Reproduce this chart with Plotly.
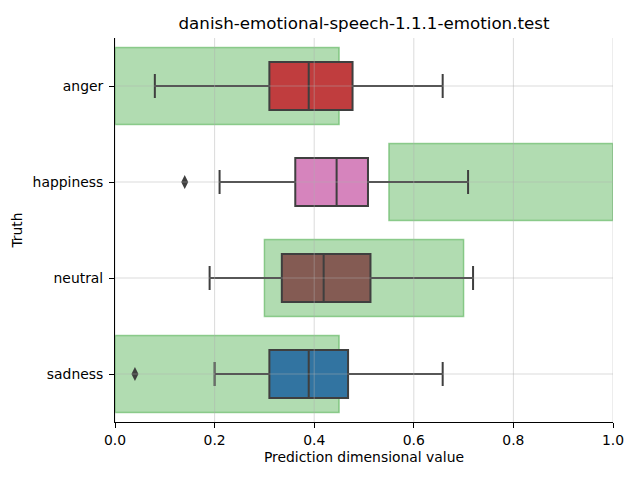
import plotly.graph_objects as go

# ---- data ----
categories = ["anger", "happiness", "neutral", "sadness"]
box_colors = ["#c03d3e", "#d684bd", "#845b53", "#3274a1"]
lower_whisker = [0.08, 0.21, 0.19, 0.20]
q1_vals = [0.31, 0.362, 0.335, 0.31]
median_vals = [0.389, 0.445, 0.419, 0.389]
q3_vals = [0.477, 0.508, 0.513, 0.468]
upper_whisker = [0.658, 0.709, 0.719, 0.658]
outlier_cats = ["happiness", "sadness"]
outlier_vals = [0.14, 0.04]
range_low = [0.0, 0.55, 0.30, 0.0]
range_high = [0.45, 1.0, 0.70, 0.45]
x_ticks = [0.0, 0.2, 0.4, 0.6, 0.8, 1.0]

FONT = "DejaVu Sans"
LINE = "#3f3f3f"

fig = go.Figure()

# green expected-range bars
fig.add_trace(go.Bar(
    orientation="h",
    y=categories,
    x=[h - l for l, h in zip(range_low, range_high)],
    base=range_low,
    width=0.8,
    marker=dict(color="rgba(44,160,44,0.37)",
                line=dict(color="rgba(44,160,44,0.45)", width=1.5)),
    showlegend=False,
    hoverinfo="skip",
))

# boxes
for i, c in enumerate(categories):
    fig.add_trace(go.Box(
        orientation="h",
        y=[c],
        q1=[q1_vals[i]],
        median=[median_vals[i]],
        q3=[q3_vals[i]],
        lowerfence=[lower_whisker[i]],
        upperfence=[upper_whisker[i]],
        width=0.5,
        whiskerwidth=0.5,
        fillcolor=box_colors[i],
        line=dict(color=LINE, width=2),
        showlegend=False,
    ))

# outliers
fig.add_trace(go.Scatter(
    x=outlier_vals, y=outlier_cats, mode="markers",
    marker=dict(symbol="diamond-tall", size=10, color=LINE),
    showlegend=False,
))

# gridlines drawn above (semi-transparent)
shapes = []
for t in x_ticks:
    shapes.append(dict(type="line", xref="x", yref="paper", x0=t, x1=t, y0=0, y1=1,
                       line=dict(color="rgba(175,175,175,0.45)", width=1), layer="above"))
for i, c in enumerate(categories):
    shapes.append(dict(type="line", xref="paper", yref="y", x0=0, x1=1, y0=i, y1=i,
                       line=dict(color="rgba(175,175,175,0.45)", width=1), layer="above"))

fig.update_layout(
    width=624, height=464,
    margin=dict(l=107, r=19, t=30, b=50, autoexpand=False),
    paper_bgcolor="white", plot_bgcolor="white",
    font=dict(family=FONT, size=14, color="black"),
    title=dict(text="danish-emotional-speech-1.1.1-emotion.test",
               x=0.5, xref="paper", xanchor="center",
               y=1, yref="paper", yanchor="bottom", pad=dict(b=9),
               font=dict(size=16.7, family=FONT, color="black")),
    shapes=shapes,
    showlegend=False,
    boxmode="overlay",
    barmode="overlay",
)
fig.update_xaxes(
    range=[0, 1], tickvals=x_ticks, ticktext=[f"{t:.1f}" for t in x_ticks],
    showgrid=False, zeroline=False, automargin=False,
    showline=True, linecolor="black", linewidth=1,
    ticks="outside", ticklen=5, tickcolor="black",
    title=dict(text="Prediction dimensional value", font=dict(size=13.9), standoff=5),
    tickfont=dict(size=13.9),
)
fig.update_yaxes(
    type="category", categoryorder="array", categoryarray=categories,
    range=[3.5, -0.5], automargin=False,
    showgrid=False, zeroline=False,
    showline=True, linecolor="black", linewidth=1,
    ticks="outside", ticklen=5, tickcolor="black", ticklabelstandoff=3,
    title=dict(text="Truth", font=dict(size=13.9), standoff=6),
    tickfont=dict(size=13.9),
)

fig.write_html("out.html")
